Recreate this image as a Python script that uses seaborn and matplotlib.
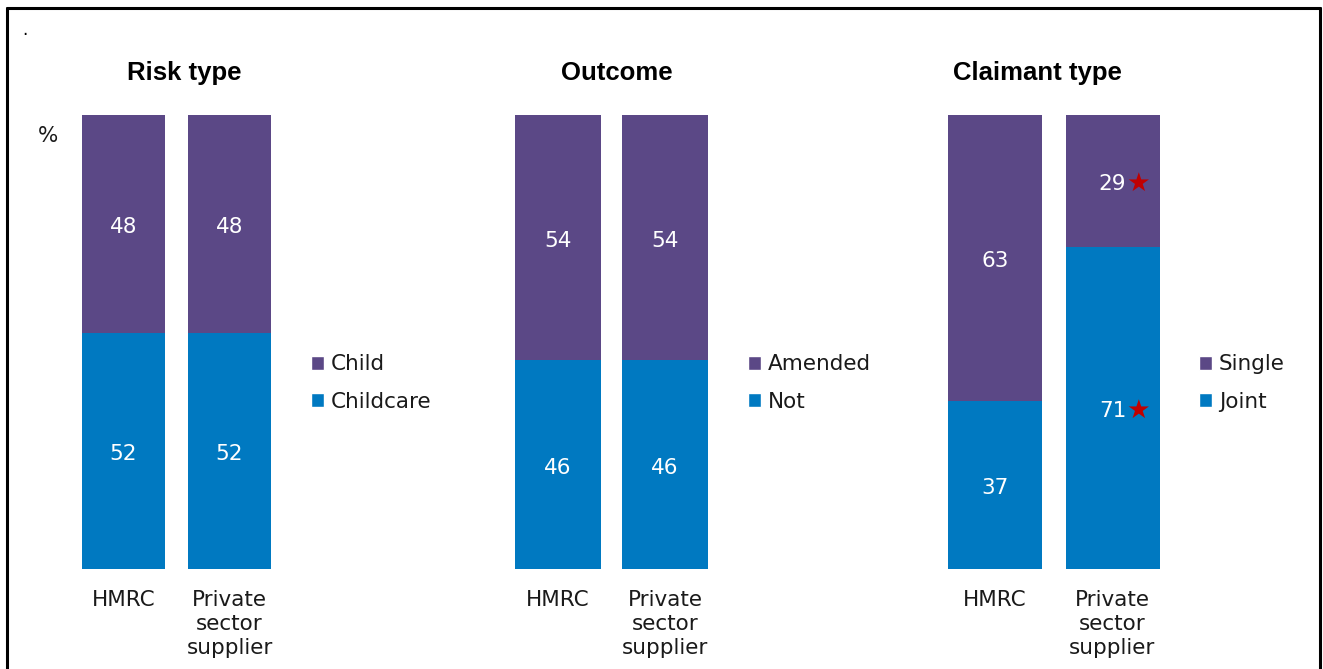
import matplotlib
matplotlib.use("Agg")
import matplotlib.pyplot as plt
import seaborn as sns
import pandas as pd
from matplotlib.patches import Patch
from matplotlib.lines import Line2D

# ---- data -------------------------------------------------------------
sources = ["HMRC", "Private\nsector\nsupplier"]

panel_titles = ["Risk type", "Outcome", "Claimant type"]
top_labels = ["Child", "Amended", "Single"]
bottom_labels = ["Childcare", "Not", "Joint"]

risk_child = [48, 48]
risk_childcare = [52, 52]
outcome_amended = [54, 54]
outcome_not = [46, 46]
claimant_single = [63, 29]
claimant_joint = [37, 71]

# statistically significant difference markers (per source)
risk_flag = [False, False]
outcome_flag = [False, False]
claimant_flag = [False, True]

# ---- style ------------------------------------------------------------
PURPLE = "#5B4886"
BLUE = "#0079C1"
STAR = "#C00000"
TEXT = "#1a1a1a"
FS = 15.5

W, H = 1323, 669
sns.set_theme(style="white")
plt.rcParams["font.family"] = ["DejaVu Sans"]

fig = plt.figure(figsize=(W / 100, H / 100), dpi=100)


def fx(px):
    return px / W


def fy(py):
    return 1 - py / H


# (first bar centre, second bar centre, bar width) in pixels
geometry = [(123.5, 229.5, 83), (558, 665, 86), (995, 1112.5, 94)]
legend_x = [311, 748, 1199]
title_x = [184.5, 617, 1037.5]

panels = [
    (risk_child, risk_childcare, risk_flag),
    (outcome_amended, outcome_not, outcome_flag),
    (claimant_single, claimant_joint, claimant_flag),
]

y_bottom, y_top = 569, 115

for k, (top_vals, bot_vals, flags) in enumerate(panels):
    c0, c1, bw = geometry[k]
    step = c1 - c0
    left = c0 - step / 2
    ax = fig.add_axes([fx(left), fy(y_bottom), fx(2 * step), (y_bottom - y_top) / H])

    df = pd.DataFrame({
        "source": sources,
        "lower": bot_vals,
        "upper": top_vals,
    })
    df["total"] = df["lower"] + df["upper"]

    width = bw / step
    sns.barplot(data=df, x="source", y="total", order=sources, color=PURPLE,
                saturation=1, width=width, errorbar=None, ax=ax)
    sns.barplot(data=df, x="source", y="lower", order=sources, color=BLUE,
                saturation=1, width=width, errorbar=None, ax=ax)
    for p in ax.patches:
        p.set_edgecolor("none")

    for i, row in df.iterrows():
        lo, up = row["lower"], row["upper"]
        for yv, val in ((lo / 2, lo), (lo + up / 2, up)):
            ax.annotate(f"{val}", xy=(i, yv), xytext=(0, -3),
                        textcoords="offset pixels", color="white", fontsize=FS,
                        ha="center", va="center")
            if flags[i]:
                ax.annotate("★", xy=(i, yv), xytext=(26, -3),
                            textcoords="offset pixels", color=STAR,
                            fontsize=19, ha="center", va="center")

    ax.set_xlim(-0.5, 1.5)
    ax.set_ylim(0, 100)
    ax.set_xlabel("")
    ax.set_ylabel("")
    ax.set_yticks([])
    ax.tick_params(axis="x", length=0, pad=15, labelsize=FS, labelcolor=TEXT)
    for lab in ax.get_xticklabels():
        lab.set_linespacing(1.24)
        lab.set_verticalalignment("top")
    sns.despine(ax=ax, left=True, bottom=True)

    handles = [Patch(facecolor=PURPLE, label=top_labels[k]),
               Patch(facecolor=BLUE, label=bottom_labels[k])]
    ax.legend(handles=handles, loc="center left",
              bbox_to_anchor=(fx(legend_x[k]), fy(383)),
              bbox_transform=fig.transFigure, frameon=False,
              handlelength=0.62, handleheight=0.62, handletextpad=0.3,
              labelspacing=0.82, fontsize=FS, borderpad=0, borderaxespad=0,
              labelcolor=TEXT)

    fig.text(fx(title_x[k]), fy(73), panel_titles[k], ha="center", va="center",
             fontsize=18.5, fontweight="bold", family="Liberation Sans",
             color="black")

fig.text(fx(48), fy(136), "%", ha="center", va="center", fontsize=FS,
         color=TEXT)
fig.text(fx(25), fy(30), ".", ha="center", va="center", fontsize=12,
         color="black")

# frame around the figure (left, top and right edges)
frame = [([7, 7], [669, 8]), ([7, 1320], [8, 8]), ([1320, 1320], [8, 669])]
for xs, ys in frame:
    fig.add_artist(Line2D([fx(x) for x in xs], [fy(y) for y in ys],
                          color="black", linewidth=2.2,
                          transform=fig.transFigure))

fig.savefig("out.png", dpi=100)
